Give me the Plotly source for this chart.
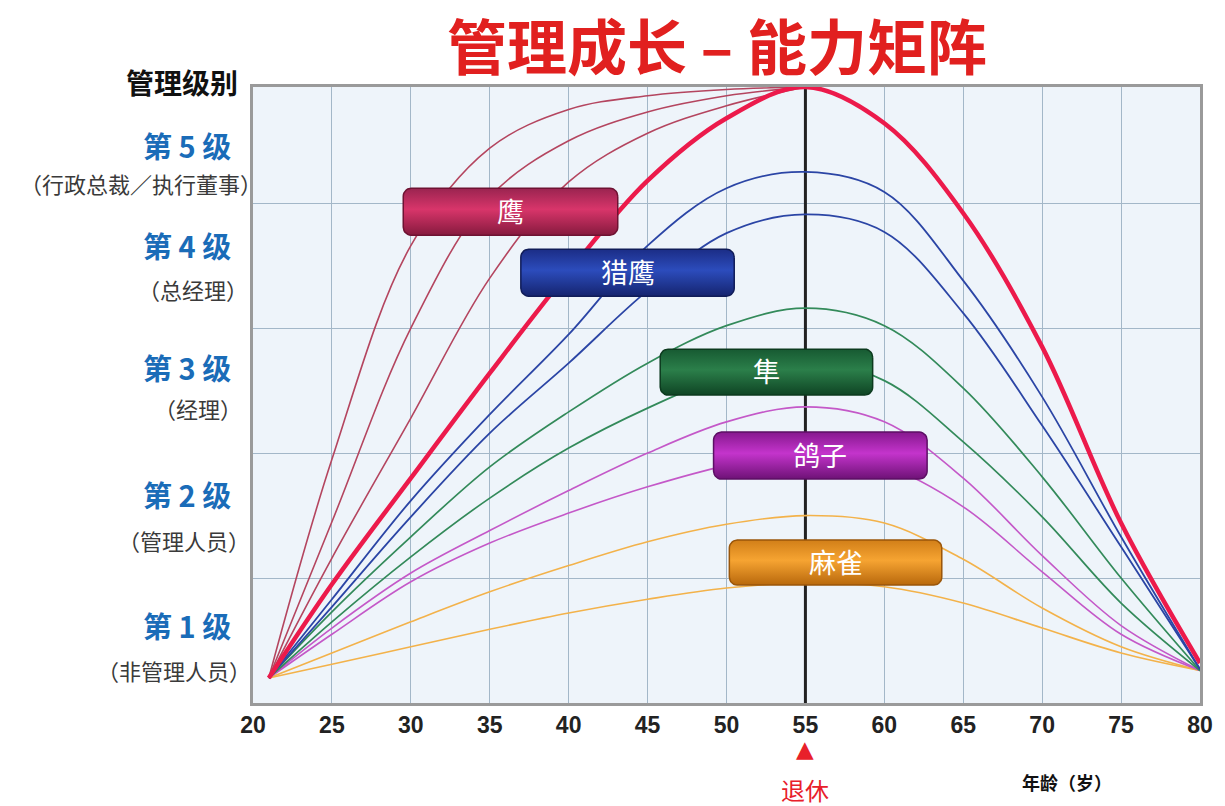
import numpy as np
import plotly.graph_objects as go

# ---------------- data ----------------
TITLE = "管理成长 – 能力矩阵"
AXIS_Y_TITLE = "管理级别"
AXIS_X_TITLE = "年龄（岁）"
RETIRE_LABEL = "退休"
RETIRE_AGE = 55
AGE_TICKS = [20, 25, 30, 35, 40, 45, 50, 55, 60, 65, 70, 75, 80]
LEVELS = ["第 5 级", "第 4 级", "第 3 级", "第 2 级", "第 1 级"]
LEVEL_NOTES = ["（行政总裁／执行董事）", "（总经理）", "（经理）", "（管理人员）", "（非管理人员）"]
CATEGORIES = ["鹰", "猎鹰", "隼", "鸽子", "麻雀"]

# ages at which every curve was read
AGES = [21, 25, 30, 35, 40, 45, 50, 55, 60, 65, 70, 75, 80]
AGES_TO_PEAK = [21, 25, 30, 35, 40, 45, 50, 55]

# eagle (鹰): three thin curves (rise to the top by 55) + thick main curve
eagle1_y = [0.2, 1.95, 3.66, 4.44, 4.75, 4.86, 4.91, 4.93]
eagle2_y = [0.2, 1.45, 3.0, 4.05, 4.5, 4.73, 4.86, 4.93]
eagle3_y = [0.2, 1.16, 2.28, 3.4, 4.17, 4.56, 4.78, 4.93]
eagle_main_y = [0.2, 0.95, 1.8, 2.64, 3.45, 4.18, 4.68, 4.93, 4.64, 3.92, 2.85, 1.44, 0.32]

# falcon (猎鹰)
falcon1_y = [0.2, 0.83, 1.62, 2.31, 2.95, 3.66, 4.12, 4.25, 4.09, 3.38, 2.45, 1.33, 0.27]
falcon2_y = [0.2, 0.77, 1.49, 2.16, 2.72, 3.3, 3.76, 3.91, 3.77, 3.12, 2.22, 1.25, 0.27]

# hawk (隼)
hawk1_y = [0.2, 0.73, 1.33, 1.89, 2.33, 2.72, 3.02, 3.16, 3.02, 2.52, 1.81, 1.0, 0.26]
hawk2_y = [0.2, 0.65, 1.17, 1.64, 2.04, 2.36, 2.62, 2.74, 2.58, 2.09, 1.49, 0.8, 0.26]

# pigeon (鸽子)
pigeon1_y = [0.2, 0.6, 1.04, 1.38, 1.7, 2.0, 2.25, 2.37, 2.25, 1.8, 1.18, 0.62, 0.26]
pigeon2_y = [0.2, 0.55, 0.97, 1.28, 1.52, 1.73, 1.9, 2.0, 1.9, 1.57, 1.05, 0.55, 0.26]

# sparrow (麻雀)
sparrow1_y = [0.2, 0.4, 0.65, 0.89, 1.1, 1.29, 1.43, 1.5, 1.44, 1.15, 0.76, 0.45, 0.26]
sparrow2_y = [0.2, 0.31, 0.45, 0.59, 0.72, 0.83, 0.92, 0.96, 0.93, 0.8, 0.6, 0.4, 0.26]

# ---------------- styling / layout constants ----------------
Y_TOP = 4.93
C_ROSE = "#b4455f"
C_RED = "#ec1a4b"
C_BLUE = "#2b45a5"
C_GREEN = "#338a5a"
C_MAG = "#c458c8"
C_ORANGE = "#f3b24a"

# box placement: (x0, x1, y0, y1) in data coords, gradient colors bottom/mid/top, edge
BOXES = {
    "鹰":   dict(pos=(29.52, 43.11, 3.744, 4.12), grad=("#861a3e", "#d8356a", "#9a2450"), edge="#6e1232"),
    "猎鹰": dict(pos=(36.97, 50.49, 3.256, 3.632), grad=("#15246f", "#2c4cbc", "#1b2d86"), edge="#101c58"),
    "隼":   dict(pos=(45.80, 59.26, 2.464, 2.832), grad=("#0f4424", "#2b7f4a", "#175a32"), edge="#0c3a1e"),
    "鸽子": dict(pos=(49.18, 62.71, 1.792, 2.168), grad=("#6e1276", "#c434cc", "#86188e"), edge="#5c0f64"),
    "麻雀": dict(pos=(50.18, 63.64, 0.944, 1.304), grad=("#b8680c", "#f6a432", "#d27f18"), edge="#9a560a"),
}

fig = go.Figure()

# retirement line
fig.add_trace(go.Scatter(x=[RETIRE_AGE, RETIRE_AGE], y=[0, Y_TOP], mode="lines",
                         line=dict(color="#222222", width=3), hoverinfo="skip", showlegend=False))

curves = [
    (AGES, sparrow2_y, C_ORANGE, 1.6),
    (AGES, sparrow1_y, C_ORANGE, 1.6),
    (AGES, pigeon2_y, C_MAG, 1.6),
    (AGES, pigeon1_y, C_MAG, 1.6),
    (AGES, hawk2_y, C_GREEN, 1.7),
    (AGES, hawk1_y, C_GREEN, 1.7),
    (AGES, falcon2_y, C_BLUE, 1.8),
    (AGES, falcon1_y, C_BLUE, 1.8),
    (AGES_TO_PEAK, eagle1_y, C_ROSE, 1.6),
    (AGES_TO_PEAK, eagle2_y, C_ROSE, 1.6),
    (AGES_TO_PEAK, eagle3_y, C_ROSE, 1.6),
    (AGES, eagle_main_y, C_RED, 4.5),
]
for xs, ys, col, w in curves:
    fig.add_trace(go.Scatter(x=xs, y=ys, mode="lines",
                             line=dict(color=col, width=w, shape="spline", smoothing=1.0),
                             hoverinfo="skip", showlegend=False))


def rounded_rect(x0, x1, y0, y1, rx, ry, n=8):
    xs, ys = [], []
    corners = [
        (x1 - rx, y1 - ry, 0, 90),
        (x0 + rx, y1 - ry, 90, 180),
        (x0 + rx, y0 + ry, 180, 270),
        (x1 - rx, y0 + ry, 270, 360),
    ]
    for cx, cy, a0, a1 in corners:
        for a in np.linspace(np.radians(a0), np.radians(a1), n):
            xs.append(cx + rx * np.cos(a))
            ys.append(cy + ry * np.sin(a))
    xs.append(xs[0])
    ys.append(ys[0])
    return xs, ys


RX = 8 / 15.97
RY = 8 / 125
for name in CATEGORIES:
    b = BOXES[name]
    x0, x1, y0, y1 = b["pos"]
    bx, by = rounded_rect(x0, x1, y0, y1, RX, RY)
    c0, c1, c2 = b["grad"]
    fig.add_trace(go.Scatter(
        x=bx, y=by, mode="lines", fill="toself",
        line=dict(color=b["edge"], width=1.5),
        fillgradient=dict(type="vertical", start=y0, stop=y1,
                          colorscale=[[0, c0], [0.55, c1], [1, c2]]),
        hoverinfo="skip", showlegend=False))
    fig.add_annotation(x=(x0 + x1) / 2, y=(y0 + y1) / 2 + 0.01, xref="x", yref="y",
                       text=name, showarrow=False,
                       font=dict(family="Noto Sans CJK SC", size=27, color="#ffffff"))

# left level labels
level_y = [4.464, 3.664, 2.688, 1.672, 0.624]
note_y = [4.16, 3.312, 2.36, 1.304, 0.264]
note_x = [0.012, -0.003, -0.009, -0.001, 0.0]
for lab, ly in zip(LEVELS, level_y):
    fig.add_annotation(x=-0.021, y=ly, xref="paper", yref="y", text=lab, showarrow=False,
                       xanchor="right", yanchor="middle",
                       font=dict(family="Noto Sans CJK SC", size=29, color="#1a6cb8", weight="bold"))
for lab, ly, nx in zip(LEVEL_NOTES, note_y, note_x):
    fig.add_annotation(x=nx, y=ly, xref="paper", yref="y", text=lab, showarrow=False,
                       xanchor="right", yanchor="middle",
                       font=dict(family="Noto Sans CJK SC", size=22, color="#3a3a3a"))

fig.add_annotation(x=-0.0136, y=1.008, xref="paper", yref="paper", text=AXIS_Y_TITLE,
                   showarrow=False, xanchor="right", yanchor="middle",
                   font=dict(family="Noto Sans CJK SC", size=28, color="#111111", weight="bold"))

fig.add_annotation(x=0.4895, y=1.07, xref="paper", yref="paper", text=TITLE,
                   showarrow=False, xanchor="center", yanchor="middle",
                   font=dict(family="Noto Sans CJK SC", size=60, color="#e1201f", weight="bold"))

# retirement marker
fig.add_annotation(x=RETIRE_AGE, y=-0.074, xref="x", yref="paper", text="▲", showarrow=False,
                   yanchor="middle", font=dict(family="DejaVu Sans", size=23, color="#e8202a"))
fig.add_annotation(x=RETIRE_AGE, y=-0.141, xref="x", yref="paper", text=RETIRE_LABEL,
                   showarrow=False, yanchor="middle",
                   font=dict(family="Noto Sans CJK SC", size=24, color="#e8202a"))
fig.add_annotation(x=71.6, y=-0.128, xref="x", yref="paper", text=AXIS_X_TITLE,
                   showarrow=False, yanchor="middle",
                   font=dict(family="Noto Sans CJK SC", size=18, color="#111111", weight="bold"))

fig.update_xaxes(range=[20, 80], tickvals=AGE_TICKS, ticktext=[str(t) for t in AGE_TICKS],
                 showgrid=True, gridcolor="#a3b7c8", gridwidth=1.2, zeroline=False,
                 showline=True, mirror=True, linecolor="#9a9a9a", linewidth=2.5,
                 ticks="", tickfont=dict(family="Liberation Sans Narrow, Liberation Sans",
                                         size=23, color="#222222", weight="bold"))
fig.update_yaxes(range=[0, Y_TOP], dtick=1, showticklabels=False,
                 showgrid=True, gridcolor="#a3b7c8", gridwidth=1.2, zeroline=False,
                 showline=True, mirror=True, linecolor="#9a9a9a", linewidth=2.5, ticks="")

fig.update_layout(width=1225, height=806, margin=dict(l=253, r=14, t=87, b=103),
                  paper_bgcolor="#ffffff", plot_bgcolor="#eef4fa", showlegend=False)

fig.write_html("out.html")
